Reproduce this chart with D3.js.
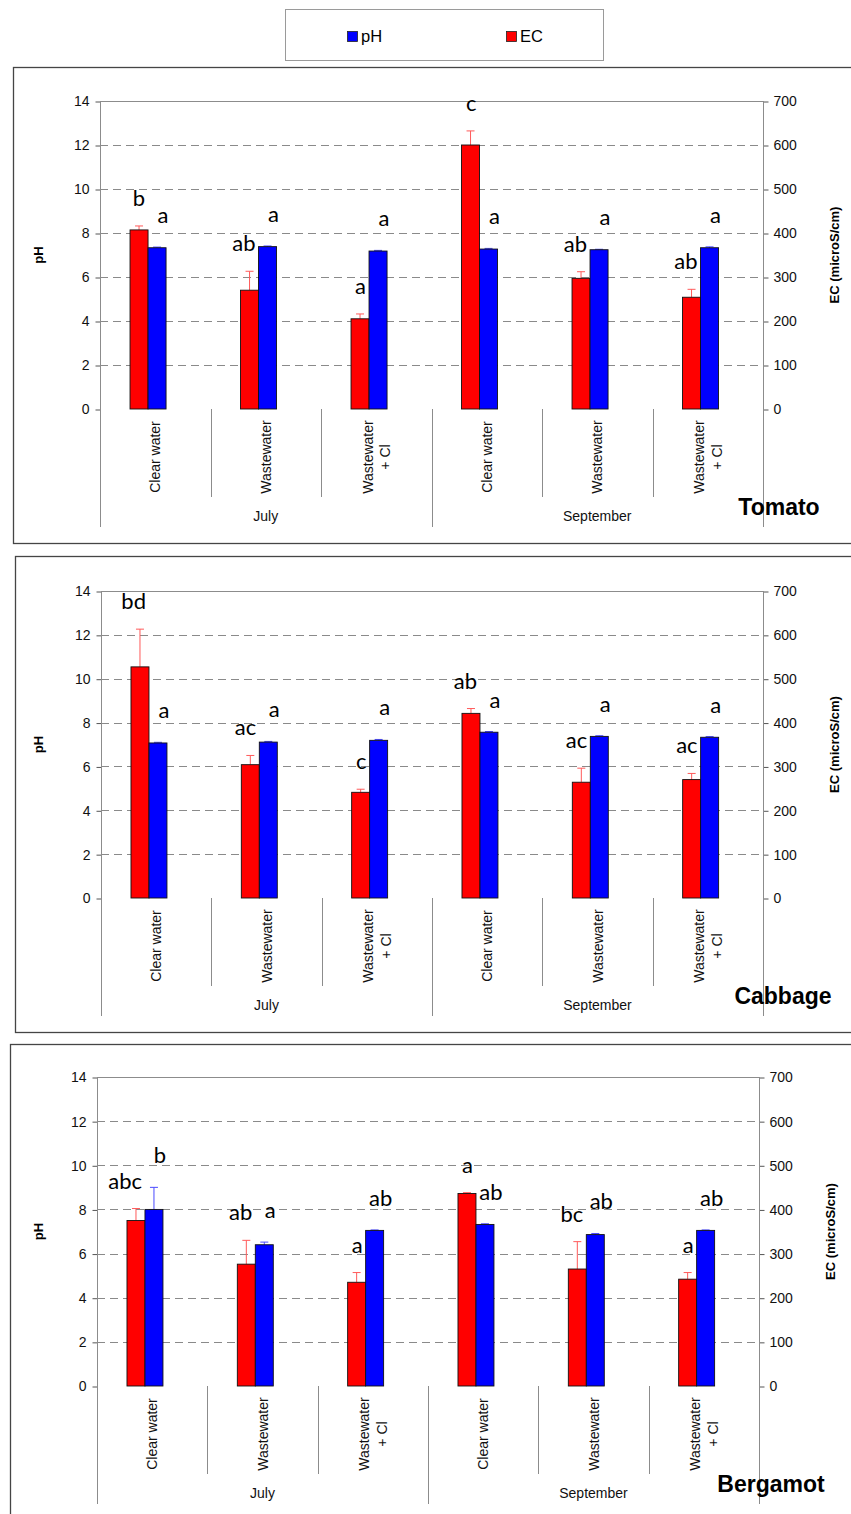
<!DOCTYPE html>
<html>
<head>
<meta charset="utf-8">
<script src="https://cdn.jsdelivr.net/npm/d3@7/dist/d3.min.js"></script>
<style>
  body { margin: 0; background: #fff; }
  svg { display: block; }
</style>
</head>
<body>
<svg id="chart" width="851" height="1514"></svg>
<script>
// Treatments within each sampling month
const treatments = ["Clear water", "Wastewater", "Wastewater\n+ Cl"];
const months = ["July", "September"];
const phTicks = [0, 2, 4, 6, 8, 10, 12, 14];
const ecTicks = [0, 100, 200, 300, 400, 500, 600, 700];

// Tomato: EC (microS/cm) and pH, July then September
const tomatoEC      = [407, 270, 205, 600, 297, 254];
const tomatoECErr   = [9, 43, 11, 32, 15, 18];
const tomatoPH      = [7.33, 7.38, 7.18, 7.27, 7.24, 7.33];
const tomatoPHErr   = [0.03, 0.03, 0.03, 0.03, 0.02, 0.04];
const tomatoECSig   = ["b", "ab", "a", "c", "ab", "ab"];
const tomatoPHSig   = ["a", "a", "a", "a", "a", "a"];

// Cabbage
const cabbageEC     = [527, 304, 241, 421, 264, 270];
const cabbageECErr  = [86, 21, 7, 11, 32, 14];
const cabbagePH     = [7.07, 7.11, 7.19, 7.56, 7.37, 7.33];
const cabbagePHErr  = [0.03, 0.03, 0.04, 0.03, 0.03, 0.03];
const cabbageECSig  = ["bd", "ac", "c", "ab", "ac", "ac"];
const cabbagePHSig  = ["a", "a", "a", "a", "a", "a"];

// Bergamot
const bergamotEC    = [375, 276, 235, 436, 265, 242];
const bergamotECErr = [27, 54, 22, 2, 62, 15];
const bergamotPH    = [8.0, 6.4, 7.05, 7.32, 6.86, 7.05];
const bergamotPHErr = [1.0, 0.12, 0.02, 0.03, 0.05, 0.02];
const bergamotECSig = ["abc", "ab", "a", "a", "bc", "a"];
const bergamotPHSig = ["b", "a", "ab", "ab", "ab", "ab"];

const COLOR_EC = "#ff0000";
const COLOR_PH = "#0000ff";
const AXIS_GREY = "#8c8c8c";
const FONT = "'Liberation Sans', Arial, sans-serif";
const SIG_FONT = "Lato, 'Open Sans', sans-serif";

const svg = d3.select("#chart");

// Legend box
const legend = svg.append("g");
legend.append("rect")
  .attr("x", 285.5).attr("y", 9.5).attr("width", 318).attr("height", 51)
  .attr("fill", "#fff").attr("stroke", "#9a9a9a");
[["pH", COLOR_PH, 347], ["EC", COLOR_EC, 506]].forEach(([name, col, lx]) => {
  legend.append("rect").attr("x", lx + 0.5).attr("y", 31.5).attr("width", 10).attr("height", 10)
    .attr("fill", col).attr("stroke", "#222").attr("stroke-width", 0.8);
  legend.append("text").attr("x", lx + 14).attr("y", 42)
    .attr("font-family", FONT).attr("font-size", 16.5).attr("fill", "#000").text(name);
});

// Panel layout
const panels = [
  { title: "Tomato",   frame: [13.5, 67.5],   left: 100, right: 763, top: 101,  bottom: 409,  titleX: 779, frameH: 476,
    ec: tomatoEC, ecErr: tomatoECErr, ph: tomatoPH, phErr: tomatoPHErr, ecSig: tomatoECSig, phSig: tomatoPHSig },
  { title: "Cabbage",  frame: [15.5, 556.5],  left: 101, right: 763, top: 591,  bottom: 898,  titleX: 783, frameH: 476,
    ec: cabbageEC, ecErr: cabbageECErr, ph: cabbagePH, phErr: cabbagePHErr, ecSig: cabbageECSig, phSig: cabbagePHSig },
  { title: "Bergamot", frame: [10.5, 1044.5], left: 97,  right: 759, top: 1077, bottom: 1386, titleX: 771, frameH: 500,
    ec: bergamotEC, ecErr: bergamotECErr, ph: bergamotPH, phErr: bergamotPHErr, ecSig: bergamotECSig, phSig: bergamotPHSig }
];

function drawPanel(p) {
  const g = svg.append("g");

  g.append("rect")
    .attr("x", p.frame[0]).attr("y", p.frame[1])
    .attr("width", 900).attr("height", p.frameH)
    .attr("fill", "none").attr("stroke", "#454545").attr("stroke-width", 1.3);

  const groups = d3.range(months.length * treatments.length);
  const x = d3.scaleBand().domain(groups).range([p.left, p.right]);
  const yPH = d3.scaleLinear().domain([0, 14]).range([p.bottom, p.top]);
  const yEC = d3.scaleLinear().domain([0, 700]).range([p.bottom, p.top]);

  // Dashed gridlines
  g.selectAll(".grid").data(phTicks.filter(t => t > 0 && t < 14)).enter().append("line")
    .attr("x1", p.left).attr("x2", p.right)
    .attr("y1", d => Math.round(yPH(d)) + 0.5).attr("y2", d => Math.round(yPH(d)) + 0.5)
    .attr("stroke", "#8a8a8a").attr("stroke-dasharray", "8,5");
  g.append("line").attr("x1", p.left).attr("x2", p.right)
    .attr("y1", yPH(14) + 0.5).attr("y2", yPH(14) + 0.5).attr("stroke", AXIS_GREY);

  const extBottom = p.bottom + 118;
  const innerBottom = p.bottom + 88;

  // Left pH axis
  const axL = g.append("g").attr("transform", `translate(${p.left + 0.5},0.5)`)
    .call(d3.axisLeft(yPH).tickValues(phTicks).tickSize(5).tickSizeOuter(0).tickPadding(6));
  // Right EC axis
  const axR = g.append("g").attr("transform", `translate(${p.right + 0.5},0.5)`)
    .call(d3.axisRight(yEC).tickValues(ecTicks).tickSize(5).tickSizeOuter(0).tickPadding(5));
  [axL, axR].forEach(ax => {
    ax.select(".domain").remove();
    ax.selectAll(".tick line").attr("stroke", "#555");
    ax.selectAll(".tick text").attr("font-family", FONT).attr("font-size", 14).attr("fill", "#111");
  });

  // Axis lines and category separators below the plot
  [p.left, x(3), p.right].forEach(xx => {
    g.append("line").attr("x1", Math.round(xx) + 0.5).attr("x2", Math.round(xx) + 0.5)
      .attr("y1", xx === x(3) ? p.bottom : p.top).attr("y2", extBottom)
      .attr("stroke", AXIS_GREY);
  });
  [1, 2, 4, 5].forEach(i => {
    g.append("line").attr("x1", Math.round(x(i)) + 0.5).attr("x2", Math.round(x(i)) + 0.5)
      .attr("y1", p.bottom).attr("y2", innerBottom).attr("stroke", AXIS_GREY);
  });

  const slot = x.bandwidth() * 0.163;
  const rows = groups.map(i => ({
    i, ec: p.ec[i], ecErr: p.ecErr[i], ph: p.ph[i], phErr: p.phErr[i],
    ecSig: p.ecSig[i], phSig: p.phSig[i],
    cx: x(i) + x.bandwidth() / 2
  }));
  const ecX = d => d.cx - 1.4 * slot;
  const phX = d => d.cx - 0.4 * slot;

  // Error bars (upper only)
  function errBars(xf, val, err, scale, col) {
    const eg = g.append("g").attr("stroke", col).attr("stroke-width", 1);
    rows.forEach(d => {
      const xc = xf(d) + slot / 2;
      eg.append("line").attr("x1", xc).attr("x2", xc)
        .attr("y1", scale(d[val])).attr("y2", scale(d[val] + d[err]));
      eg.append("line").attr("x1", xc - 4).attr("x2", xc + 4)
        .attr("y1", scale(d[val] + d[err])).attr("y2", scale(d[val] + d[err]));
    });
  }
  errBars(ecX, "ec", "ecErr", yEC, "#ff5a5a");
  errBars(phX, "ph", "phErr", yPH, "#4a4aff");

  // Bars
  g.selectAll(".ecbar").data(rows).enter().append("rect")
    .attr("x", ecX).attr("width", slot)
    .attr("y", d => yEC(d.ec)).attr("height", d => p.bottom - yEC(d.ec))
    .attr("fill", COLOR_EC).attr("stroke", "#111").attr("stroke-width", 0.9);
  g.selectAll(".phbar").data(rows).enter().append("rect")
    .attr("x", phX).attr("width", slot)
    .attr("y", d => yPH(d.ph)).attr("height", d => p.bottom - yPH(d.ph))
    .attr("fill", COLOR_PH).attr("stroke", "#111").attr("stroke-width", 0.9);

  // Significance letters: EC letters end just inside the red bar, pH letters sit over the blue bar
  g.selectAll(".ecsig").data(rows).enter().append("text")
    .attr("x", d => ecX(d) + slot - 3)
    .attr("y", d => yEC(d.ec + d.ecErr) - 20)
    .attr("text-anchor", "end").attr("font-family", SIG_FONT).attr("font-size", 22)
    .text(d => d.ecSig);
  g.selectAll(".phsig").data(rows).enter().append("text")
    .attr("x", d => phX(d) + slot / 2 + 6)
    .attr("y", d => yPH(d.ph + d.phErr) - 24)
    .attr("text-anchor", "middle").attr("font-family", SIG_FONT).attr("font-size", 22)
    .text(d => d.phSig);

  // Treatment labels (rotated)
  groups.forEach(i => {
    const lines = treatments[i % treatments.length].split("\n");
    const t = g.append("text")
      .attr("transform", `translate(${x(i) + x.bandwidth() / 2},${p.bottom + 48}) rotate(-90)`)
      .attr("text-anchor", "middle").attr("font-family", FONT).attr("font-size", 14).attr("fill", "#111");
    lines.forEach((ln, k) => {
      t.append("tspan").attr("x", 0)
        .attr("dy", k === 0 ? ((-(lines.length - 1) / 2) * 1.25 + 0.36) + "em" : "1.25em")
        .text(ln);
    });
  });

  // Month labels
  months.forEach((m, k) => {
    const x1 = x(k * 3), x2 = x(k * 3 + 2) + x.bandwidth();
    g.append("text").attr("x", (x1 + x2) / 2).attr("y", p.bottom + 112)
      .attr("text-anchor", "middle").attr("font-family", FONT).attr("font-size", 14).attr("fill", "#111")
      .text(m);
  });

  // Axis titles
  const midY = (p.top + p.bottom) / 2;
  g.append("text").attr("transform", `translate(${43},${midY}) rotate(-90)`)
    .attr("text-anchor", "middle").attr("font-family", FONT).attr("font-size", 13)
    .attr("font-weight", "bold").text("pH");
  g.append("text").attr("transform", `translate(${p.right + 76},${midY}) rotate(-90)`)
    .attr("text-anchor", "middle").attr("font-family", FONT).attr("font-size", 13)
    .attr("font-weight", "bold").text("EC (microS/cm)");

  // Crop name
  g.append("text").attr("x", p.titleX).attr("y", p.bottom + 106)
    .attr("text-anchor", "middle").attr("font-family", FONT).attr("font-size", 23)
    .attr("font-weight", "bold").text(p.title);
}

panels.forEach(drawPanel);
</script>
</body>
</html>
